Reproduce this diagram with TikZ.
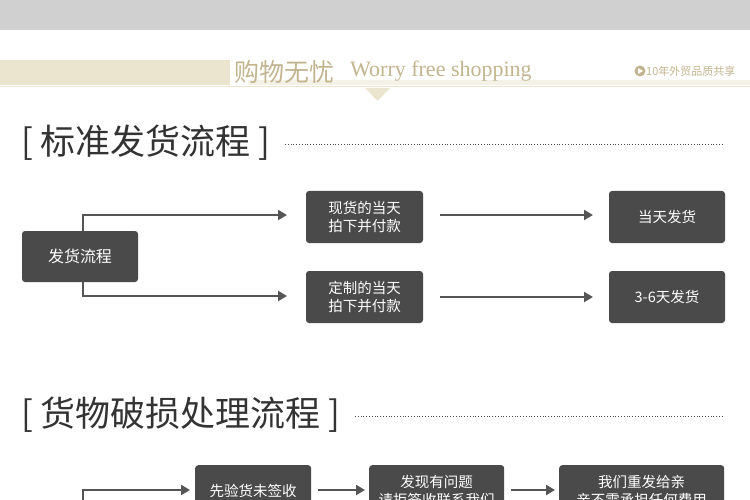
\documentclass[tikz,border=0pt]{standalone}
\usepackage{fontspec}
\setmainfont{Liberation Serif}
\newfontfamily\cjk{Noto Sans CJK SC}
\usetikzlibrary{arrows.meta}
\definecolor{bandgray}{HTML}{D0D0D0}
\definecolor{beige}{HTML}{EBE5D0}
\definecolor{paleb}{HTML}{F4F1E6}
\definecolor{gold}{HTML}{C2B48E}
\definecolor{boxgray}{HTML}{4A4A4A}
\definecolor{linegray}{HTML}{555555}
\tikzset{
  flowbox/.style={fill=boxgray, rounded corners=3pt, text=white, font=\cjk\fontsize{14.5}{18}\selectfont, align=center},
  flowline/.style={linegray, line width=2pt},
  flowarrow/.style={flowline, -{Triangle[length=9pt,width=10pt]}},
  heading/.style={anchor=west, text=black!80, font=\cjk\fontsize{35}{36}\selectfont, inner sep=0pt},
}
\begin{document}
\begin{tikzpicture}[x=1pt,y=-1pt]
\useasboundingbox (0,0) rectangle (750,500);
% Banner
\fill[bandgray] (0,0) rectangle (750,30);
\fill[beige] (0,60) rectangle (230,85);
\fill[paleb] (248,80) rectangle (750,85);
\draw[beige, line width=1pt] (0,87) -- (750,87);
\fill[beige] (365,88) -- (390,88) -- (377.5,101) -- cycle;
\node (cntitle) [anchor=west, text=gold, font=\cjk\fontsize{25}{26}\selectfont, inner sep=0pt] at (234,72) {购物无忧};
\node (entitle) [anchor=west, text=gold, font=\fontsize{22}{24}\selectfont, inner sep=0pt] at (350,71) {Worry free shopping};
\node (slogan) [anchor=west, text=gold, font=\cjk\fontsize{11}{12}\selectfont, inner sep=0pt] at (646,71) {10年外贸品质共享};
\fill[gold] (640,71) circle (5.5);
\fill[white] (638,68) -- (638,74) -- (643,71) -- cycle;

% Standard shipping
\node (head1) [heading] at (21,143) {[ 标准发货流程 ]};
\draw[black!70, dotted, line width=0.8pt] (285,144) -- (722,144);
\node (ship) [flowbox, minimum width=116pt, minimum height=51pt, font=\cjk\fontsize{16}{18}\selectfont] at (80,256.5) {发货流程};
\node (stock) [flowbox, minimum width=117pt, minimum height=52pt] at (364.5,217) {现货的当天\\拍下并付款};
\node (custom) [flowbox, minimum width=117pt, minimum height=52pt] at (364.5,297) {定制的当天\\拍下并付款};
\node (today) [flowbox, minimum width=116pt, minimum height=52pt] at (667,217) {当天发货};
\node (later) [flowbox, minimum width=116pt, minimum height=52pt] at (667,297) {3-6天发货};
\coordinate (up) at (83,215);
\coordinate (down) at (83,296);
\draw[flowarrow] (ship.north -| up) -- (up) -- (287,215);
\draw[flowarrow] (ship.south -| down) -- (down) -- (287,296);
\draw[flowarrow] (440,215) -- (593,215);
\draw[flowarrow] (440,297) -- (593,297);

% Damage handling
\node (head2) [heading] at (21,415) {[ 货物破损处理流程 ]};
\draw[black!70, dotted, line width=0.8pt] (355,416) -- (722,416);
\node (check) [flowbox, minimum width=116pt, minimum height=52pt, anchor=north west] at (195,465) {先验货未签收};
\node (found) [flowbox, minimum width=135pt, minimum height=52pt, anchor=north west] at (369,465) {发现有问题\\请拒签收联系我们};
\node (resend) [flowbox, minimum width=165pt, minimum height=52pt, anchor=north west] at (559,465) {我们重发给亲\\亲不需承担任何费用};
\coordinate (start) at (83,490);
\draw[flowarrow] (83,510) -- (start) -- (190,490);
\draw[flowarrow] (318,490) -- (365,490);
\draw[flowarrow] (511,490) -- (555,490);
\end{tikzpicture}
\end{document}
